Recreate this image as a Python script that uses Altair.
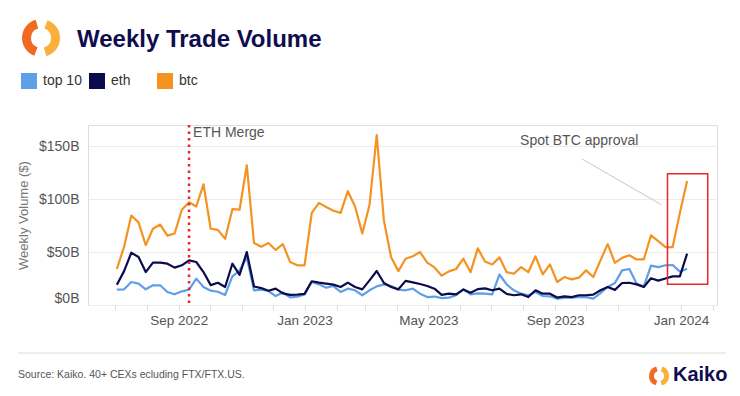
import altair as alt
import pandas as pd

# ---------------- data ----------------
weeks = [d.strftime("%Y-%m-%d") for d in pd.date_range("2022-07-03", periods=80, freq="7D")]

top10 = [14.5, 14.8, 21.7, 20.2, 14.8, 18.6, 18.6, 12.3, 10.1, 12.9,
         14.5, 24.9, 17.0, 13.5, 12.5, 9.5, 27.0, 32.5, 45.0, 13.9,
         14.5, 13.2, 8.4, 11.8, 7.2, 7.8, 10.0, 21.7, 19.5, 16.4,
         17.9, 12.3, 15.4, 13.9, 9.2, 13.9, 17.6, 19.5, 17.9, 14.5,
         13.9, 15.4, 10.7, 7.5, 8.0, 6.5, 7.0, 9.3, 15.0, 10.0,
         11.0, 10.7, 10.0, 28.8, 19.4, 13.9, 10.7, 9.2, 12.3, 8.5,
         8.2, 6.0, 6.6, 7.0, 7.5, 7.5, 6.0, 11.3, 17.0, 20.8,
         32.7, 34.0, 20.2, 17.5, 37.2, 35.8, 37.5, 37.8, 31.5, 34.3]

eth = [19.2, 32.0, 49.4, 45.3, 31.1, 40.0, 40.0, 39.0, 35.3, 37.5,
       42.2, 40.6, 31.1, 18.8, 21.0, 17.0, 39.0, 28.5, 50.0, 17.5,
       16.0, 13.5, 15.5, 11.0, 9.5, 9.8, 10.5, 22.4, 21.1, 20.2,
       19.2, 17.0, 21.1, 17.0, 14.8, 23.3, 32.1, 20.8, 17.0, 14.8,
       22.8, 21.4, 19.8, 18.0, 15.4, 9.5, 10.7, 10.0, 14.6, 11.5,
       15.0, 15.7, 13.9, 15.4, 10.5, 9.2, 10.1, 7.5, 13.9, 10.7,
       10.7, 7.0, 8.2, 7.5, 9.2, 9.2, 9.8, 13.9, 17.0, 14.3,
       20.8, 21.0, 19.5, 17.0, 25.2, 23.0, 25.0, 27.0, 27.0, 48.5]

btc = [34.0, 55.0, 84.5, 78.0, 56.5, 72.0, 76.0, 65.5, 67.5, 90.0,
       97.0, 93.0, 114.0, 72.0, 71.0, 62.5, 90.5, 90.0, 132.0, 58.5,
       55.0, 58.5, 52.0, 57.5, 40.5, 37.5, 37.5, 87.0, 96.5, 92.5,
       89.0, 87.0, 107.5, 93.0, 67.5, 94.5, 160.5, 79.5, 45.0, 32.0,
       43.7, 46.0, 50.0, 40.0, 35.5, 27.7, 31.8, 34.0, 43.7, 31.0,
       53.5, 41.0, 38.3, 45.0, 31.0, 29.5, 35.8, 31.0, 46.0, 29.0,
       38.4, 21.7, 26.4, 24.2, 25.8, 32.7, 26.4, 42.2, 57.5, 39.8,
       44.5, 47.0, 43.0, 43.0, 65.8, 60.3, 54.7, 54.7, 87.0, 117.0]

series_names = ["top 10", "eth", "btc"]
series_colors = ["#5e9fe6", "#0c0b4b", "#f39322"]
y_ticks = [0, 50, 100, 150]

merge_date = ["2022-09-11"]
merge_label = ["ETH Merge"]
merge_label_y = [162]
approval_label = ["Spot BTC approval"]
approval_label_pos = [("2023-07-29", 154.5)]
pointer = [("2023-09-27", 138.0), ("2023-12-13", 94.7)]
approval_box = [("2023-12-19", "2024-01-27", 19.5, 124.0)]

title_text = "Weekly Trade Volume"
source_text = "Source: Kaiko. 40+ CEXs ecluding FTX/FTX.US."
brand_text = "Kaiko"

# ---------------- tables ----------------
values_by_series = {"top 10": top10, "eth": eth, "btc": btc}
color_by_series = dict(zip(series_names, series_colors))
rows = []
for name in series_names:
    for d, v in zip(weeks, values_by_series[name]):
        rows.append({"week": d, "series": name, "volume": v})
df = pd.DataFrame(rows)
legend_df = pd.DataFrame({"series": series_names})

FONT = "Liberation Sans"
x_scale = alt.Scale(type="utc",
                    domain=[alt.DateTime(year=2022, month=6, date=5, utc=True),
                            alt.DateTime(year=2024, month=2, date=5, utc=True)])
y_scale = alt.Scale(domain=[0, 170], nice=False)
color_scale = alt.Scale(domain=series_names, range=series_colors)

x_axis = alt.Axis(title=None, grid=False, domain=False, ticks=True, tickColor="#dcdcdc",
                  tickSize=5, tickCount={"interval": "month", "step": 1},
                  labelExpr="utcmonth(datum.value) % 4 == 0 ? utcFormat(datum.value, '%b %Y') : ''",
                  labelFontSize=13.5, labelColor="#555555", labelPadding=3,
                  labelOverlap=False, labelFlush=False, labelFont=FONT)
y_axis = alt.Axis(title="Weekly Volume ($)", values=y_ticks,
                  labelExpr="'$' + datum.value + 'B'", grid=True, gridColor="#ececec",
                  domain=False, ticks=False, labelFontSize=14, labelColor="#555555",
                  labelPadding=9, labelFlush=True, labelFont=FONT,
                  titleFontSize=13, titleFontWeight="normal", titleColor="#777777",
                  titlePadding=8, titleFont=FONT)

# one line layer per series (drawn btc first, then top 10, then eth on top)
line_layers = []
for name in ["btc", "top 10", "eth"]:
    line_layers.append(
        alt.Chart(df).transform_filter(alt.datum.series == name)
        .mark_line(strokeWidth=2.2, strokeJoin="round", color=color_by_series[name])
        .encode(
            x=alt.X("week:T", scale=x_scale, axis=x_axis),
            y=alt.Y("volume:Q", scale=y_scale, axis=y_axis),
        )
    )

# legend: filled squares, as in the reference (the marks themselves sit off-canvas)
legend_layer = alt.Chart(legend_df).mark_square(filled=True, opacity=1).encode(
    x=alt.value(-500), y=alt.value(-500),
    color=alt.Color("series:N", scale=color_scale, title=None,
                    legend=alt.Legend(orient="none", legendX=-67, legendY=-52,
                                      direction="horizontal", symbolType="square",
                                      symbolSize=256, symbolStrokeWidth=0,
                                      symbolOpacity=1,
                                      labelFontSize=14, labelColor="#333333",
                                      labelFont=FONT, labelOffset=6,
                                      columnPadding=7, gridAlign="all", padding=0)),
)

merge_df = pd.DataFrame({"date": merge_date, "label": merge_label, "y": merge_label_y})
merge_rule = alt.Chart(merge_df).mark_rule(color="#e8262a", strokeWidth=2.5,
                                           strokeDash=[2.5, 4]).encode(
    x=alt.X("date:T", scale=x_scale))
merge_text = alt.Chart(merge_df).mark_text(align="left", baseline="middle", dx=4,
                                           fontSize=14, color="#555555", font=FONT).encode(
    x=alt.X("date:T", scale=x_scale), y=alt.Y("y:Q", scale=y_scale), text="label:N")

appr_df = pd.DataFrame({"date": [p[0] for p in approval_label_pos],
                        "y": [p[1] for p in approval_label_pos],
                        "label": approval_label})
appr_text = alt.Chart(appr_df).mark_text(align="left", baseline="middle", fontSize=14,
                                         color="#555555", font=FONT).encode(
    x=alt.X("date:T", scale=x_scale), y=alt.Y("y:Q", scale=y_scale), text="label:N")

ptr_df = pd.DataFrame({"date": [p[0] for p in pointer], "y": [p[1] for p in pointer]})
ptr_line = alt.Chart(ptr_df).mark_line(color="#c8c8c8", strokeWidth=1).encode(
    x=alt.X("date:T", scale=x_scale), y=alt.Y("y:Q", scale=y_scale))

box_df = pd.DataFrame({"x1": [b[0] for b in approval_box], "x2": [b[1] for b in approval_box],
                       "y1": [b[2] for b in approval_box], "y2": [b[3] for b in approval_box]})
box = alt.Chart(box_df).mark_rect(fillOpacity=0, stroke="#e8262a", strokeWidth=1.5).encode(
    x=alt.X("x1:T", scale=x_scale), x2="x2:T",
    y=alt.Y("y1:Q", scale=y_scale), y2="y2:Q")

one = alt.Data(values=[{}])
title = alt.Chart(one).mark_text(text=title_text, align="left", baseline="middle",
                                 fontSize=24, fontWeight="bold", color="#100d4f",
                                 font=FONT).encode(x=alt.value(-11), y=alt.value(-85))
logo_a = alt.Chart(one).mark_arc(theta=3.5, theta2=6.0, innerRadius=10, outerRadius=19,
                                 color="#f26a21").encode(x=alt.value(-47), y=alt.value(-87))
logo_b = alt.Chart(one).mark_arc(theta=0.35, theta2=2.85, innerRadius=10, outerRadius=19,
                                 color="#fbb03b").encode(x=alt.value(-47), y=alt.value(-87))
sep = alt.Chart(one).mark_rule(color="#dddddd", strokeWidth=1).encode(
    x=alt.value(-70), x2=alt.value(638), y=alt.value(228))
source = alt.Chart(one).mark_text(text=source_text, align="left", baseline="middle",
                                  fontSize=10.5, color="#555555", font=FONT).encode(
    x=alt.value(-70), y=alt.value(250))
brand = alt.Chart(one).mark_text(text=brand_text, align="left", baseline="middle",
                                 fontSize=20, fontWeight="bold", color="#100d4f",
                                 font=FONT).encode(x=alt.value(585), y=alt.value(250))
blogo_a = alt.Chart(one).mark_arc(theta=3.5, theta2=6.0, innerRadius=5, outerRadius=10,
                                  color="#f26a21").encode(x=alt.value(571), y=alt.value(251))
blogo_b = alt.Chart(one).mark_arc(theta=0.35, theta2=2.85, innerRadius=5, outerRadius=10,
                                  color="#fbb03b").encode(x=alt.value(571), y=alt.value(251))

chart = alt.layer(
    *line_layers, legend_layer, merge_rule, merge_text, ptr_line, appr_text, box,
    title, logo_a, logo_b, sep, source, brand, blogo_a, blogo_b
).properties(
    width=629, height=180,
    autosize=alt.AutoSizeParams(type="none"),
    padding={"left": 80, "top": 117, "right": 15, "bottom": 83},
).configure_view(stroke="#e6e6e6").configure(font=FONT, background="white")

chart.save("out.html", embed_options={"renderer": "svg", "actions": False})
